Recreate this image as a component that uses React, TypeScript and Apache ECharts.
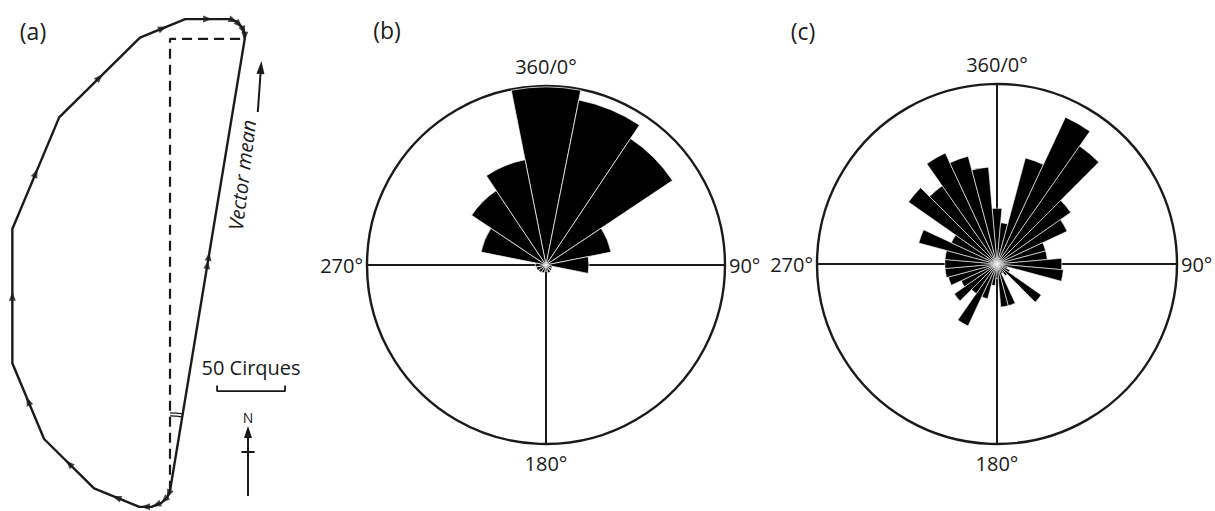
import React, { useEffect, useRef } from "react";
import * as echarts from "echarts";

// ---------- Panel (a): vector sum diagram (segments in drawing order) ----------
const vectorBearings = [202.5, 225, 247.5, 270, 292.5, 315, 337.5, 0, 22.5, 45, 67.5, 90, 112.5, 135, 157.5, 180];
const vectorLengths = [5, 6, 8, 9, 36, 52, 61, 100, 90, 84, 36, 33, 5, 6, 5, 4]; // cirques
const scaleBarLength = 50; // cirques
const scaleBarText = "50 Cirques";

// ---------- Panel (b): 16 sectors of 22.5° ----------
const roseBDirections = ["0", "22.5", "45", "67.5", "90", "112.5", "135", "157.5", "180", "202.5", "225", "247.5", "270", "292.5", "315", "337.5"];
const roseBValues = [99.5, 94, 85, 37, 24, 3.5, 4, 4.5, 3.5, 4.5, 5, 5.5, 6, 37, 50, 60];

// ---------- Panel (c): 36 sectors of 10° ----------
const roseCDirections = ["0", "10", "20", "30", "40", "50", "60", "70", "80", "90", "100", "110", "120", "130", "140", "150", "160", "170", "180", "190", "200", "210", "220", "230", "240", "250", "260", "270", "280", "290", "300", "310", "320", "330", "340", "350"];
const roseCValues = [31, 23, 61, 90, 80, 50, 43, 28, 28, 36, 37, 6, 8, 30, 8, 6, 24, 24, 8, 12, 20, 38, 20, 29, 22, 28, 29, 29, 29, 45, 28, 60, 53, 68, 62, 54];

const compassLabels: Record<number, string> = { 0: "{t|360/0°}", 90: "{s|90°}", 180: "{b|180°}", 270: "{s|270°}" };
const panelLabels = ["(a)", "(b)", "(c)"];

const INK = "#1a1a1a";
const FONT = "Open Sans";

export default function App() {
  const ref = useRef<HTMLDivElement>(null);

  useEffect(() => {
    document.body.style.margin = "0";
    if (!ref.current) return;
    const chart = echarts.init(ref.current, null, { renderer: "svg" });

    // cumulative vector path
    const pts: number[][] = [[0, 0]];
    const arrows: any[] = [];
    let x = 0;
    let y = 0;
    vectorBearings.forEach((b, i) => {
      const r = (b * Math.PI) / 180;
      const nx = x + vectorLengths[i] * Math.sin(r);
      const ny = y + vectorLengths[i] * Math.cos(r);
      arrows.push({ value: [(x + nx) / 2, (y + ny) / 2], symbolRotate: -b });
      x = nx;
      y = ny;
      pts.push([x, y]);
    });
    const endX = x;
    const endY = y;
    const meanBearing = (Math.atan2(endX, endY) * 180) / Math.PI;
    const meanArrows = [0.5, 0.518].map((t) => ({ value: [endX * t, endY * t], symbolRotate: -meanBearing }));

    // scale-bar placement (data units)
    const sbX = 34.6;
    const sbY = 74.3;
    const sbTick = 4.2;

    const K = 1.36; // px per cirque
    const origin = [170, 497];
    const xMin = -125, xMax = 95, yMin = -15, yMax = 360;

    const labelFont = { fontFamily: FONT, fontSize: 20, color: INK };
    const frameAngle = (polarIndex: number) => ({
      polarIndex,
      type: "value",
      min: 0,
      max: 360,
      interval: 90,
      startAngle: 90,
      clockwise: true,
      axisLine: { show: true, lineStyle: { color: INK, width: 2.4 } },
      axisTick: { show: false },
      axisLabel: {
        show: true,
        margin: 4,
        ...labelFont,
        formatter: (v: number) => (v >= 360 ? "" : compassLabels[v] ?? ""),
        rich: {
          t: { ...labelFont, padding: [0, 0, 6, 0] },
          b: { ...labelFont, padding: [5, 0, 0, 0] },
          s: { ...labelFont },
        },
      },
      splitLine: { show: true, lineStyle: { color: INK, width: 2 } },
      splitArea: { show: false },
    });
    const hiddenRadius = (polarIndex: number, max: number) => ({
      polarIndex,
      type: "value",
      min: 0,
      max,
      axisLine: { show: false },
      axisTick: { show: false },
      axisLabel: { show: false },
      splitLine: { show: false },
      splitArea: { show: false },
    });
    const barAngle = (polarIndex: number, data: string[]) => ({
      polarIndex,
      type: "category",
      data,
      startAngle: 90 + 180 / data.length,
      clockwise: true,
      axisLine: { show: false },
      axisTick: { show: false },
      axisLabel: { show: false },
      splitLine: { show: false },
      splitArea: { show: false },
    });

    const option: any = {
      animation: false,
      grid: {
        left: origin[0] + xMin * K,
        top: origin[1] - yMax * K,
        width: (xMax - xMin) * K,
        height: (yMax - yMin) * K,
      },
      xAxis: { type: "value", min: xMin, max: xMax, show: false },
      yAxis: { type: "value", min: yMin, max: yMax, show: false },
      polar: [
        { center: [546, 265], radius: 179 },
        { center: [546, 265], radius: 179 },
        { center: [997, 264], radius: 180 },
        { center: [997, 264], radius: 180 },
      ],
      angleAxis: [barAngle(0, roseBDirections), frameAngle(1), barAngle(2, roseCDirections), frameAngle(3)],
      radiusAxis: [hiddenRadius(0, 100), hiddenRadius(1, 1), hiddenRadius(2, 100), hiddenRadius(3, 1)],
      series: [
        {
          type: "line",
          data: pts,
          symbol: "none",
          clip: false,
          lineStyle: { color: INK, width: 2.4 },
          silent: true,
        },
        {
          type: "scatter",
          data: arrows,
          symbol: "triangle",
          symbolSize: [7, 9],
          itemStyle: { color: INK },
          clip: false,
          silent: true,
          z: 3,
        },
        {
          type: "line",
          data: [[0, 0], [0, endY], [endX, endY]],
          symbol: "none",
          clip: false,
          lineStyle: { color: INK, width: 2.2, type: [10, 6] },
          silent: true,
        },
        {
          type: "line",
          data: [[0, 0], [endX, endY]],
          symbol: "none",
          clip: false,
          lineStyle: { color: INK, width: 2.4 },
          silent: true,
        },
        {
          type: "scatter",
          data: meanArrows,
          symbol: "triangle",
          symbolSize: [7, 8],
          itemStyle: { color: INK },
          clip: false,
          silent: true,
          z: 3,
        },
        {
          type: "line",
          data: [[sbX, sbY + sbTick], [sbX, sbY], [sbX + scaleBarLength, sbY], [sbX + scaleBarLength, sbY + sbTick]],
          symbol: "none",
          clip: false,
          lineStyle: { color: INK, width: 1.8 },
          silent: true,
        },
        {
          type: "bar",
          coordinateSystem: "polar",
          polarIndex: 0,
          data: roseBValues,
          barCategoryGap: "0%",
          itemStyle: { color: "#000", borderColor: "#fff", borderWidth: 0.7 },
          silent: true,
          z: 2,
        },
        {
          type: "bar",
          coordinateSystem: "polar",
          polarIndex: 2,
          data: roseCValues,
          barCategoryGap: "0%",
          itemStyle: { color: "#000", borderColor: "#fff", borderWidth: 0.6 },
          silent: true,
          z: 2,
        },
      ],
    };
    chart.setOption(option);

    const o = chart.convertToPixel({ gridIndex: 0 }, [0, 0]) as number[];
    const sb = chart.convertToPixel({ gridIndex: 0 }, [sbX + scaleBarLength / 2, sbY]) as number[];
    const mb = (meanBearing * Math.PI) / 180;
    const textStyle = (t: string, size: number, extra: any = {}) => ({
      text: t,
      fill: INK,
      fontFamily: FONT,
      fontSize: size,
      align: "center",
      verticalAlign: "middle",
      ...extra,
    });

    chart.setOption({
      graphic: [
        { type: "text", x: 33, y: 31, style: textStyle(panelLabels[0], 23) },
        { type: "text", x: 387, y: 30, style: textStyle(panelLabels[1], 23) },
        { type: "text", x: 803, y: 31, style: textStyle(panelLabels[2], 23) },
        { type: "text", x: sb[0], y: sb[1] - 24, style: textStyle(scaleBarText, 20) },
        // angle marks between north and vector mean
        ...[75, 78].map((r) => ({
          type: "arc",
          shape: { cx: o[0], cy: o[1], r, startAngle: -Math.PI / 2, endAngle: -Math.PI / 2 + mb, clockwise: true },
          style: { stroke: INK, fill: "none", lineWidth: 1.1 },
        })),
        // "Vector mean" annotation
        {
          type: "text",
          x: 242,
          y: 175,
          rotation: ((90 - 7) * Math.PI) / 180,
          style: textStyle("Vector mean", 20, { fontStyle: "italic" }),
        },
        {
          type: "group",
          x: 259.5,
          y: 88,
          rotation: (-4 * Math.PI) / 180,
          children: [
            { type: "line", shape: { x1: 0, y1: 24, x2: 0, y2: -16 }, style: { stroke: INK, lineWidth: 2 } },
            { type: "polygon", shape: { points: [[0, -27], [-4, -14], [4, -14]] }, style: { fill: INK } },
          ],
        },
        // north arrow
        {
          type: "group",
          x: 248,
          y: 0,
          children: [
            { type: "line", shape: { x1: 0, y1: 496, x2: 0, y2: 436 }, style: { stroke: INK, lineWidth: 2 } },
            { type: "polygon", shape: { points: [[0, 426], [-4, 438], [4, 438]] }, style: { fill: INK } },
            { type: "line", shape: { x1: -6.5, y1: 452, x2: 6.5, y2: 452 }, style: { stroke: INK, lineWidth: 2 } },
            { type: "text", x: 0, y: 417, style: textStyle("N", 14) },
          ],
        },
      ],
    });

    return () => chart.dispose();
  }, []);

  return <div ref={ref} style={{ width: 1215, height: 511 }} />;
}
